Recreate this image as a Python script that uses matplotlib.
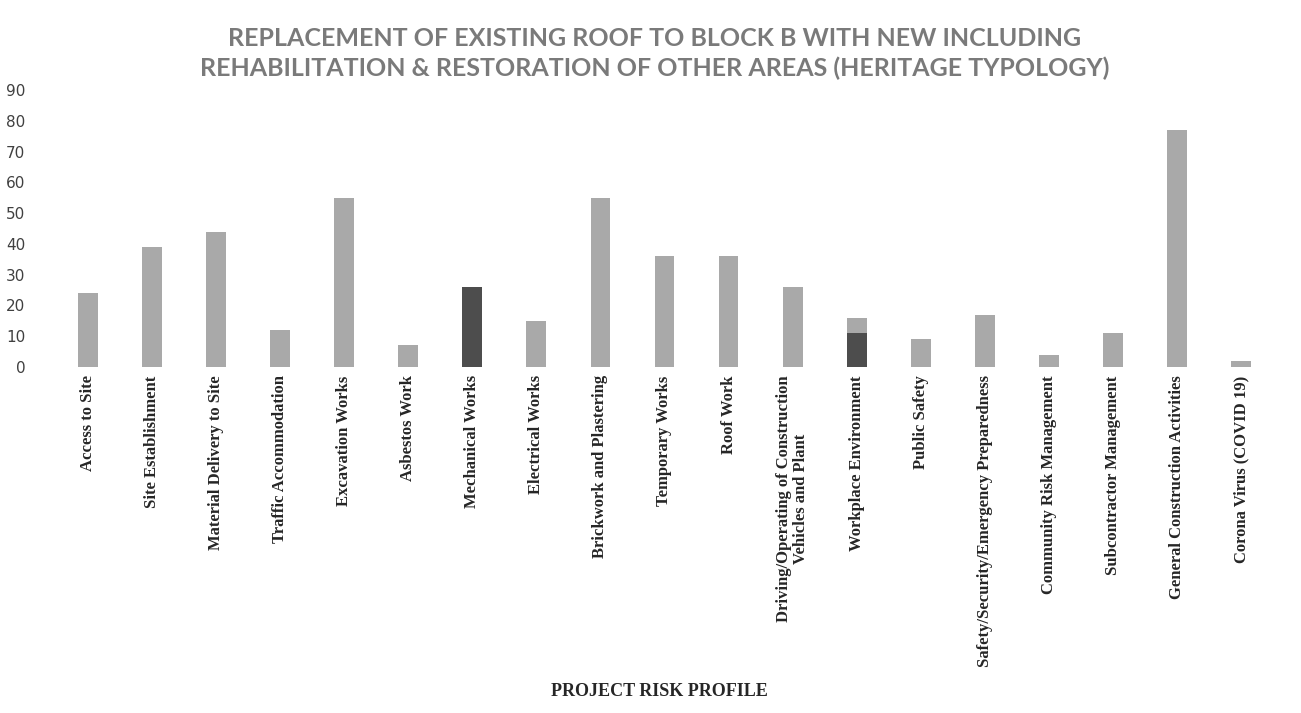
import matplotlib.pyplot as plt
import numpy as np

categories = [
    "Access to Site", "Site Establishment", "Material Delivery to Site",
    "Traffic Accommodation", "Excavation Works", "Asbestos Work",
    "Mechanical Works", "Electrical Works", "Brickwork and Plastering",
    "Temporary Works", "Roof Work",
    "Driving/Operating of Construction\nVehicles and Plant",
    "Workplace Environment", "Public Safety",
    "Safety/Security/Emergency Preparedness", "Community Risk Management",
    "Subcontractor Management", "General Construction Activities",
    "Corona Virus (COVID 19)",
]
# main (light) series and dark series
light = [24, 39, 44, 12, 55, 7, 0, 15, 55, 36, 36, 26, 5, 9, 17, 4, 11, 77, 2]
dark = [0, 0, 0, 0, 0, 0, 26, 0, 0, 0, 0, 0, 11, 0, 0, 0, 0, 0, 0]
y_ticks = list(range(0, 91, 10))

fig = plt.figure(figsize=(13.01, 7.13), dpi=100)
ax = fig.add_axes([56 / 1301, 1 - 367 / 713, (1273 - 56) / 1301, (367 - 90) / 713])

x = np.arange(len(categories))
ax.bar(x, dark, width=0.31, color="#4d4d4d")
ax.bar(x, light, width=0.31, bottom=dark, color="#a9a9a9")

ax.set_xlim(-0.5, len(categories) - 0.5)
ax.set_ylim(0, 90)
ax.set_yticks(y_ticks)
ax.tick_params(axis="y", length=0, labelsize=11, labelcolor="#404040", pad=22)
ax.tick_params(axis="x", length=0, pad=6)
ax.set_xticks(x)
ax.set_xticklabels(categories, rotation=90, family="Liberation Serif",
                   fontweight="bold", fontsize=12, color="#262626",
                   linespacing=1.05)
for s in ax.spines.values():
    s.set_visible(False)

fig.text(0.503, 1 - 38 / 713, "REPLACEMENT OF EXISTING ROOF TO BLOCK B WITH NEW INCLUDING",
         ha="center", va="center", family="Lato", fontweight="bold",
         fontsize=18, color="#7a7a7a")
fig.text(0.503, 1 - 68 / 713, "REHABILITATION & RESTORATION OF OTHER AREAS (HERITAGE TYPOLOGY)",
         ha="center", va="center", family="Lato", fontweight="bold",
         fontsize=18, color="#7a7a7a")
fig.text(0.507, 1 - 691 / 713, "PROJECT RISK PROFILE", ha="center", va="center",
         family="Liberation Serif", fontweight="bold", fontsize=13, color="#262626")

fig.savefig("out.png", dpi=100)
